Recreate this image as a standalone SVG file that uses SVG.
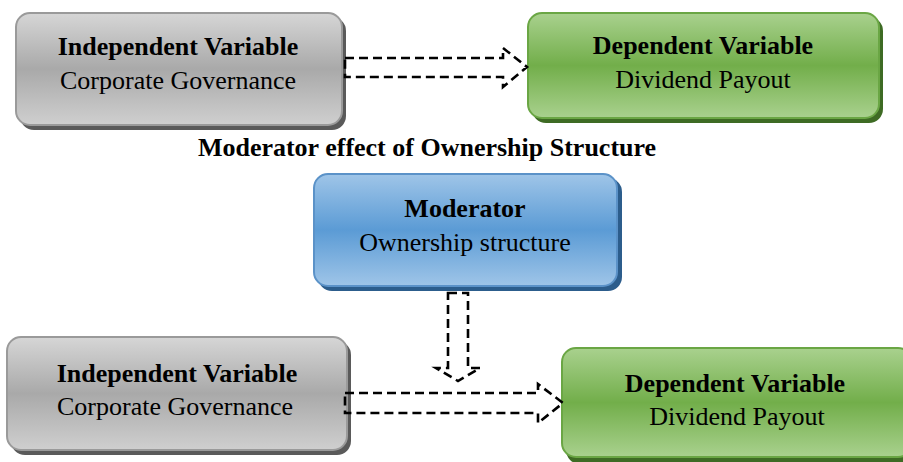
<svg xmlns="http://www.w3.org/2000/svg" width="903" height="462" viewBox="0 0 903 462">
<defs>
<linearGradient id="gGray" x1="0" y1="0" x2="0" y2="1">
<stop offset="0" stop-color="#d6d6d6"/><stop offset="0.5" stop-color="#a9a9a9"/><stop offset="1" stop-color="#cfcfcf"/>
</linearGradient>
<linearGradient id="gGreen" x1="0" y1="0" x2="0" y2="1">
<stop offset="0" stop-color="#a9d18e"/><stop offset="0.5" stop-color="#72ae4a"/><stop offset="1" stop-color="#a9d18e"/>
</linearGradient>
<linearGradient id="gBlue" x1="0" y1="0" x2="0" y2="1">
<stop offset="0" stop-color="#9fc5e8"/><stop offset="0.5" stop-color="#5b9bd5"/><stop offset="1" stop-color="#9fc5e8"/>
</linearGradient>
</defs>
<style>
.t{font-family:"Liberation Serif","Times New Roman",serif;font-size:26px;fill:#000;text-anchor:middle}
.b{font-weight:bold}
.gray{fill:url(#gGray);stroke:#9a9a9a;stroke-width:2}
.grayS{fill:#5a5a5a}
.green{fill:url(#gGreen);stroke:#6aa644;stroke-width:2}
.greenS{fill:#3e6b24}
.blue{fill:url(#gBlue);stroke:#5b92c8;stroke-width:2}
.blueS{fill:#2c5d8c}
.arr{fill:none;stroke:#000;stroke-width:2.6;stroke-dasharray:9,5}
</style>
<g id="iv1">
<rect class="grayS" x="20" y="17" width="326" height="113" rx="14"/>
<rect class="gray" x="16" y="13" width="326" height="112" rx="14"/>
<text class="t b" x="178" y="55">Independent Variable</text>
<text class="t" x="178" y="89">Corporate Governance</text>
</g>
<g id="dv1">
<rect class="greenS" x="532" y="17" width="351" height="106" rx="14"/>
<rect class="green" x="528" y="13" width="351" height="105" rx="14"/>
<text class="t b" x="703" y="54">Dependent Variable</text>
<text class="t" x="703" y="88">Dividend Payout</text>
</g>
<text class="t b" x="427" y="156">Moderator effect of Ownership Structure</text>
<g id="mod">
<rect class="blueS" x="318" y="178" width="304" height="113" rx="14"/>
<rect class="blue" x="314" y="174" width="303" height="112" rx="14"/>
<text class="t b" x="465" y="217">Moderator</text>
<text class="t" x="465" y="251">Ownership structure</text>
</g>
<g id="iv2">
<rect class="grayS" x="11" y="341" width="340" height="114" rx="14"/>
<rect class="gray" x="7" y="337" width="340" height="113" rx="14"/>
<text class="t b" x="177" y="382">Independent Variable</text>
<text class="t" x="175" y="415">Corporate Governance</text>
</g>
<g id="dv2">
<rect class="greenS" x="566" y="352" width="350" height="112" rx="14"/>
<rect class="green" x="562" y="348" width="350" height="109" rx="14"/>
<text class="t b" x="735" y="392">Dependent Variable</text>
<text class="t" x="737" y="425">Dividend Payout</text>
</g>
<g id="connectors">
<path class="arr" d="M345,58 H503 V48 L527,67 L503,87 V77 H345 Z"/>
<path class="arr" d="M448,293 H468 V368 H480 L458,381 L436,368 H448 Z"/>
<path class="arr" d="M345,393 H538 V384 L563,403 L538,423 V413 H345 Z"/>
</g>
</svg>
